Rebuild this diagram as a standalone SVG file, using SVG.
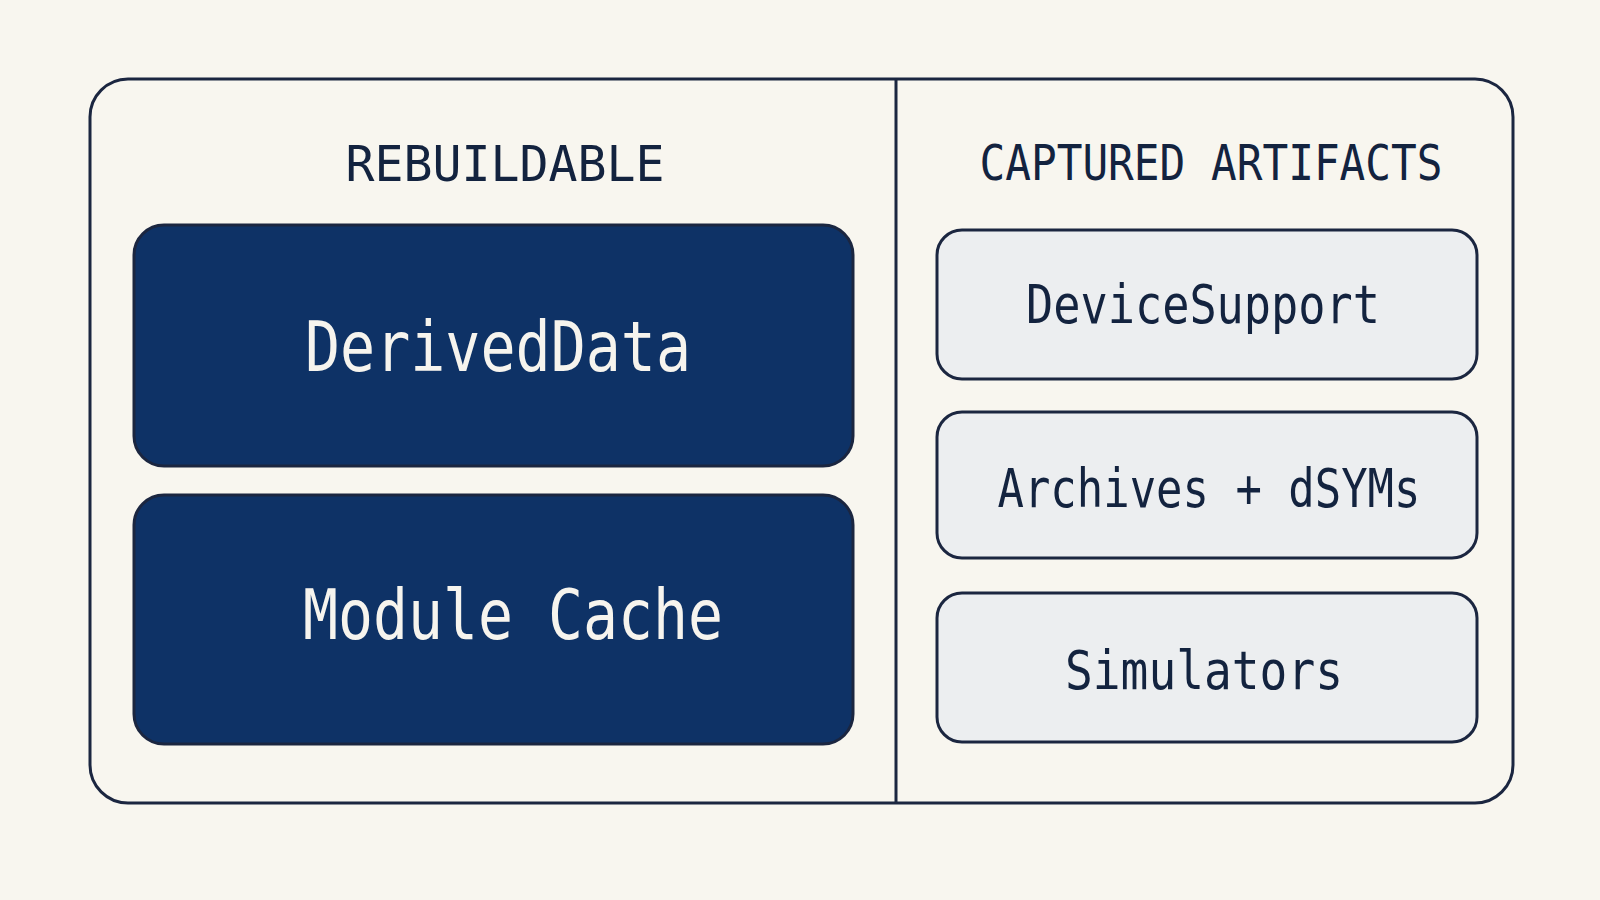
<svg xmlns="http://www.w3.org/2000/svg" width="1600" height="900" viewBox="0 0 1600 900">
  <style>
    .frame { fill: none; stroke: #1b2640; stroke-width: 3; }
    .dark { fill: #0e3266; stroke: #1b2640; stroke-width: 3; }
    .light { fill: #eceef0; stroke: #1b2640; stroke-width: 3; }
    .head { font-family: "DejaVu Sans Mono", "Liberation Mono", monospace; font-size: 49px; fill: #13233f; text-anchor: middle; }
    .lbl-dark { font-family: "DejaVu Sans Mono", "Liberation Mono", monospace; font-size: 70px; fill: #f6f4ee; text-anchor: middle; }
    .lbl-light { font-family: "DejaVu Sans Mono", "Liberation Mono", monospace; font-size: 53px; fill: #13233f; text-anchor: middle; }
  </style>
  <rect x="0" y="0" width="1600" height="900" fill="#f8f6ef"/>

  <g id="container">
    <rect class="frame" x="90" y="79" width="1423" height="724" rx="38" ry="38"/>
    <line class="frame" x1="896" y1="79" x2="896" y2="803"/>
    <text class="head" x="505" y="181" textLength="319" lengthAdjust="spacingAndGlyphs">REBUILDABLE</text>
    <text class="head" x="1211" y="180" textLength="463" lengthAdjust="spacingAndGlyphs">CAPTURED ARTIFACTS</text>
  </g>

  <g id="node-deriveddata">
    <rect class="dark" x="134" y="225" width="719" height="241" rx="30" ry="30"/>
    <text class="lbl-dark" x="498" y="371" textLength="386" lengthAdjust="spacingAndGlyphs">DerivedData</text>
  </g>

  <g id="node-modulecache">
    <rect class="dark" x="134" y="495" width="719" height="249" rx="30" ry="30"/>
    <text class="lbl-dark" x="513" y="639" textLength="420" lengthAdjust="spacingAndGlyphs">Module Cache</text>
  </g>

  <g id="node-devicesupport">
    <rect class="light" x="937" y="230" width="540" height="149" rx="25" ry="25"/>
    <text class="lbl-light" x="1203" y="323" textLength="354" lengthAdjust="spacingAndGlyphs">DeviceSupport</text>
  </g>

  <g id="node-archives">
    <rect class="light" x="937" y="412" width="540" height="146" rx="25" ry="25"/>
    <text class="lbl-light" x="1209" y="507" textLength="423" lengthAdjust="spacingAndGlyphs">Archives + dSYMs</text>
  </g>

  <g id="node-simulators">
    <rect class="light" x="937" y="593" width="540" height="149" rx="25" ry="25"/>
    <text class="lbl-light" x="1204" y="689" textLength="278" lengthAdjust="spacingAndGlyphs">Simulators</text>
  </g>

  <g id="connectors"></g>
</svg>
